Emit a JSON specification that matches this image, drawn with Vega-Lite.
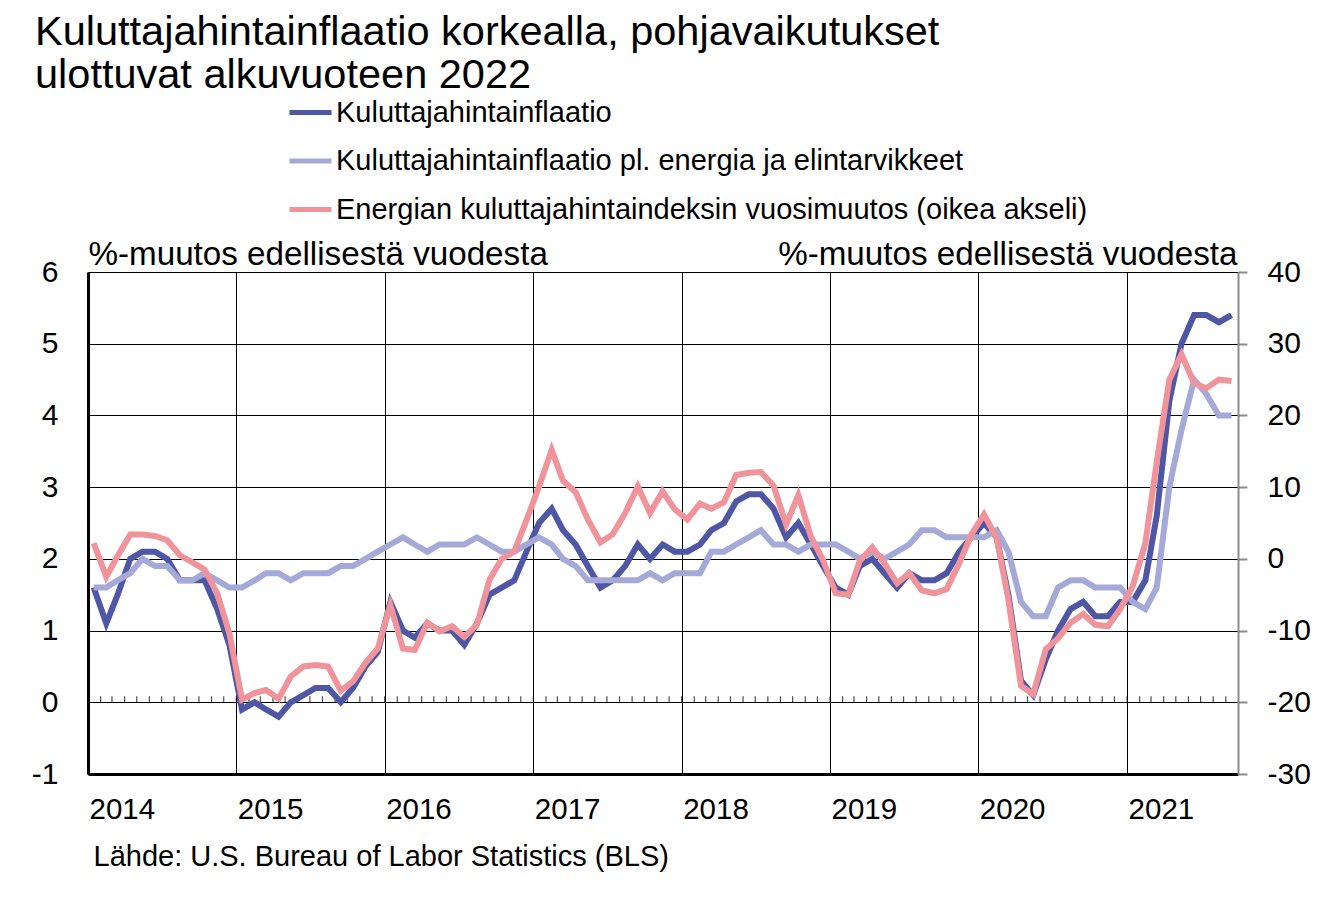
{
  "$schema": "https://vega.github.io/schema/vega-lite/v6.json",
  "autosize": {"type": "none"},
  "width": 1150,
  "height": 502,
  "padding": {"left": 88, "top": 272, "right": 102, "bottom": 133},
  "background": "white",
  "config": {
    "view": {"stroke": null},
    "font": "Liberation Sans",
    "axis": {"labelColor": "black", "titleColor": "black", "labelFont": "Liberation Sans", "titleFont": "Liberation Sans"},
    "legend": {"labelFont": "Liberation Sans", "labelColor": "black"}
  },
  "title": {
    "text": ["Kuluttajahintainflaatio korkealla, pohjavaikutukset", "ulottuvat alkuvuoteen 2022"],
    "anchor": "start",
    "frame": "group",
    "font": "Liberation Sans",
    "fontSize": 41.5,
    "fontWeight": "normal",
    "color": "black",
    "lineHeight": 43,
    "dx": -53,
    "dy": 11
  },
  "data": {
    "values": [
      {"kk": "2014-01-15", "KHI": 1.6, "pohja": 1.6, "energia": 2.2},
      {"kk": "2014-02-15", "KHI": 1.1, "pohja": 1.6, "energia": -2.5},
      {"kk": "2014-03-15", "KHI": 1.5, "pohja": 1.7, "energia": 0.4},
      {"kk": "2014-04-15", "KHI": 2.0, "pohja": 1.8, "energia": 3.4},
      {"kk": "2014-05-15", "KHI": 2.1, "pohja": 2.0, "energia": 3.4},
      {"kk": "2014-06-15", "KHI": 2.1, "pohja": 1.9, "energia": 3.2},
      {"kk": "2014-07-15", "KHI": 2.0, "pohja": 1.9, "energia": 2.6},
      {"kk": "2014-08-15", "KHI": 1.7, "pohja": 1.7, "energia": 0.5},
      {"kk": "2014-09-15", "KHI": 1.7, "pohja": 1.7, "energia": -0.5},
      {"kk": "2014-10-15", "KHI": 1.7, "pohja": 1.8, "energia": -1.5},
      {"kk": "2014-11-15", "KHI": 1.3, "pohja": 1.7, "energia": -4.8},
      {"kk": "2014-12-15", "KHI": 0.8, "pohja": 1.6, "energia": -10.4},
      {"kk": "2015-01-15", "KHI": -0.1, "pohja": 1.6, "energia": -19.6},
      {"kk": "2015-02-15", "KHI": 0.0, "pohja": 1.7, "energia": -18.7},
      {"kk": "2015-03-15", "KHI": -0.1, "pohja": 1.8, "energia": -18.3},
      {"kk": "2015-04-15", "KHI": -0.2, "pohja": 1.8, "energia": -19.5},
      {"kk": "2015-05-15", "KHI": 0.0, "pohja": 1.7, "energia": -16.4},
      {"kk": "2015-06-15", "KHI": 0.1, "pohja": 1.8, "energia": -15.0},
      {"kk": "2015-07-15", "KHI": 0.2, "pohja": 1.8, "energia": -14.8},
      {"kk": "2015-08-15", "KHI": 0.2, "pohja": 1.8, "energia": -15.0},
      {"kk": "2015-09-15", "KHI": 0.0, "pohja": 1.9, "energia": -18.4},
      {"kk": "2015-10-15", "KHI": 0.2, "pohja": 1.9, "energia": -17.1},
      {"kk": "2015-11-15", "KHI": 0.5, "pohja": 2.0, "energia": -14.5},
      {"kk": "2015-12-15", "KHI": 0.7, "pohja": 2.1, "energia": -12.5},
      {"kk": "2016-01-15", "KHI": 1.4, "pohja": 2.2, "energia": -6.4},
      {"kk": "2016-02-15", "KHI": 1.0, "pohja": 2.3, "energia": -12.5},
      {"kk": "2016-03-15", "KHI": 0.9, "pohja": 2.2, "energia": -12.7},
      {"kk": "2016-04-15", "KHI": 1.1, "pohja": 2.1, "energia": -8.9},
      {"kk": "2016-05-15", "KHI": 1.0, "pohja": 2.2, "energia": -10.1},
      {"kk": "2016-06-15", "KHI": 1.0, "pohja": 2.2, "energia": -9.4},
      {"kk": "2016-07-15", "KHI": 0.8, "pohja": 2.2, "energia": -10.9},
      {"kk": "2016-08-15", "KHI": 1.1, "pohja": 2.3, "energia": -9.2},
      {"kk": "2016-09-15", "KHI": 1.5, "pohja": 2.2, "energia": -2.9},
      {"kk": "2016-10-15", "KHI": 1.6, "pohja": 2.1, "energia": 0.0},
      {"kk": "2016-11-15", "KHI": 1.7, "pohja": 2.1, "energia": 1.0},
      {"kk": "2016-12-15", "KHI": 2.1, "pohja": 2.2, "energia": 5.4},
      {"kk": "2017-01-15", "KHI": 2.5, "pohja": 2.3, "energia": 10.1},
      {"kk": "2017-02-15", "KHI": 2.7, "pohja": 2.2, "energia": 15.2},
      {"kk": "2017-03-15", "KHI": 2.4, "pohja": 2.0, "energia": 10.9},
      {"kk": "2017-04-15", "KHI": 2.2, "pohja": 1.9, "energia": 9.3},
      {"kk": "2017-05-15", "KHI": 1.9, "pohja": 1.7, "energia": 5.5},
      {"kk": "2017-06-15", "KHI": 1.6, "pohja": 1.7, "energia": 2.3},
      {"kk": "2017-07-15", "KHI": 1.7, "pohja": 1.7, "energia": 3.4},
      {"kk": "2017-08-15", "KHI": 1.9, "pohja": 1.7, "energia": 6.4},
      {"kk": "2017-09-15", "KHI": 2.2, "pohja": 1.7, "energia": 10.1},
      {"kk": "2017-10-15", "KHI": 2.0, "pohja": 1.8, "energia": 6.4},
      {"kk": "2017-11-15", "KHI": 2.2, "pohja": 1.7, "energia": 9.4},
      {"kk": "2017-12-15", "KHI": 2.1, "pohja": 1.8, "energia": 6.9},
      {"kk": "2018-01-15", "KHI": 2.1, "pohja": 1.8, "energia": 5.5},
      {"kk": "2018-02-15", "KHI": 2.2, "pohja": 1.8, "energia": 7.7},
      {"kk": "2018-03-15", "KHI": 2.4, "pohja": 2.1, "energia": 7.0},
      {"kk": "2018-04-15", "KHI": 2.5, "pohja": 2.1, "energia": 7.9},
      {"kk": "2018-05-15", "KHI": 2.8, "pohja": 2.2, "energia": 11.7},
      {"kk": "2018-06-15", "KHI": 2.9, "pohja": 2.3, "energia": 12.0},
      {"kk": "2018-07-15", "KHI": 2.9, "pohja": 2.4, "energia": 12.1},
      {"kk": "2018-08-15", "KHI": 2.7, "pohja": 2.2, "energia": 10.2},
      {"kk": "2018-09-15", "KHI": 2.3, "pohja": 2.2, "energia": 4.8},
      {"kk": "2018-10-15", "KHI": 2.5, "pohja": 2.1, "energia": 8.9},
      {"kk": "2018-11-15", "KHI": 2.2, "pohja": 2.2, "energia": 3.1},
      {"kk": "2018-12-15", "KHI": 1.9, "pohja": 2.2, "energia": -0.2},
      {"kk": "2019-01-15", "KHI": 1.6, "pohja": 2.2, "energia": -4.8},
      {"kk": "2019-02-15", "KHI": 1.5, "pohja": 2.1, "energia": -5.0},
      {"kk": "2019-03-15", "KHI": 1.9, "pohja": 2.0, "energia": -0.3},
      {"kk": "2019-04-15", "KHI": 2.0, "pohja": 2.1, "energia": 1.6},
      {"kk": "2019-05-15", "KHI": 1.8, "pohja": 2.0, "energia": -0.6},
      {"kk": "2019-06-15", "KHI": 1.6, "pohja": 2.1, "energia": -3.4},
      {"kk": "2019-07-15", "KHI": 1.8, "pohja": 2.2, "energia": -2.0},
      {"kk": "2019-08-15", "KHI": 1.7, "pohja": 2.4, "energia": -4.4},
      {"kk": "2019-09-15", "KHI": 1.7, "pohja": 2.4, "energia": -4.8},
      {"kk": "2019-10-15", "KHI": 1.8, "pohja": 2.3, "energia": -4.2},
      {"kk": "2019-11-15", "KHI": 2.1, "pohja": 2.3, "energia": -0.6},
      {"kk": "2019-12-15", "KHI": 2.3, "pohja": 2.3, "energia": 3.4},
      {"kk": "2020-01-15", "KHI": 2.5, "pohja": 2.3, "energia": 6.2},
      {"kk": "2020-02-15", "KHI": 2.3, "pohja": 2.4, "energia": 2.9},
      {"kk": "2020-03-15", "KHI": 1.5, "pohja": 2.1, "energia": -5.7},
      {"kk": "2020-04-15", "KHI": 0.3, "pohja": 1.4, "energia": -17.7},
      {"kk": "2020-05-15", "KHI": 0.1, "pohja": 1.2, "energia": -18.9},
      {"kk": "2020-06-15", "KHI": 0.6, "pohja": 1.2, "energia": -12.6},
      {"kk": "2020-07-15", "KHI": 1.0, "pohja": 1.6, "energia": -11.1},
      {"kk": "2020-08-15", "KHI": 1.3, "pohja": 1.7, "energia": -8.9},
      {"kk": "2020-09-15", "KHI": 1.4, "pohja": 1.7, "energia": -7.7},
      {"kk": "2020-10-15", "KHI": 1.2, "pohja": 1.6, "energia": -9.2},
      {"kk": "2020-11-15", "KHI": 1.2, "pohja": 1.6, "energia": -9.4},
      {"kk": "2020-12-15", "KHI": 1.4, "pohja": 1.6, "energia": -7.0},
      {"kk": "2021-01-15", "KHI": 1.4, "pohja": 1.4, "energia": -3.8},
      {"kk": "2021-02-15", "KHI": 1.7, "pohja": 1.3, "energia": 2.2},
      {"kk": "2021-03-15", "KHI": 2.6, "pohja": 1.6, "energia": 13.5},
      {"kk": "2021-04-15", "KHI": 4.2, "pohja": 3.0, "energia": 25.0},
      {"kk": "2021-05-15", "KHI": 5.0, "pohja": 3.8, "energia": 28.5},
      {"kk": "2021-06-15", "KHI": 5.4, "pohja": 4.5, "energia": 24.5},
      {"kk": "2021-07-15", "KHI": 5.4, "pohja": 4.3, "energia": 23.8},
      {"kk": "2021-08-15", "KHI": 5.3, "pohja": 4.0, "energia": 25.0},
      {"kk": "2021-09-15", "KHI": 5.4, "pohja": 4.0, "energia": 24.8}
    ]
  },
  "layer": [
    {
      "layer": [
        {
          "mark": {"type": "tick", "orient": "vertical", "size": 6, "thickness": 1.2, "color": "black", "yOffset": -3},
          "encoding": {
            "x": {"field": "kk", "type": "temporal", "timeUnit": "utcyearmonth", "bandPosition": 0, "scale": {"type": "utc"}},
            "y": {"datum": 0, "type": "quantitative"}
          }
        },
        {
          "transform": [{"fold": ["KHI", "pohja"], "as": ["sarja", "arvo"]}],
          "mark": {"type": "line", "strokeWidth": 6},
          "encoding": {
            "x": {
              "field": "kk", "type": "temporal",
              "scale": {"type": "utc", "domain": [{"year": 2014, "month": 1, "date": 1, "utc": true}, {"year": 2021, "month": 10, "date": 1, "utc": true}]},
              "axis": {
                "title": "Lähde: U.S. Bureau of Labor Statistics (BLS)",
                "titleX": 5, "titleY": 91, "titleAlign": "left", "titleAnchor": "start", "titleBaseline": "alphabetic",
                "titleFontSize": 29, "titleFontWeight": "normal",
                "format": "%Y", "tickCount": {"interval": "year", "step": 1},
                "labelAlign": "left", "labelBaseline": "alphabetic", "labelPadding": 44, "labelOffset": 1,
                "labelFontSize": 29.5, "labelOverlap": false, "labelFlush": false, "labelBound": false,
                "ticks": false, "tickSize": 0,
                "grid": true, "gridColor": "black", "gridWidth": 1, "gridOpacity": 1,
                "domainColor": "black", "domainWidth": 3
              }
            },
            "y": {
              "field": "arvo", "type": "quantitative",
              "scale": {"domain": [-1, 6], "nice": false, "zero": false},
              "axis": {
                "title": "%-muutos edellisestä vuodesta",
                "titleAngle": 0, "titleAlign": "left", "titleBaseline": "alphabetic", "titleX": 0, "titleY": -8,
                "titleFontSize": 33.2, "titleFontWeight": "normal",
                "values": [-1, 0, 1, 2, 3, 4, 5, 6],
                "labelExpr": "'' + datum.value",
                "ticks": false, "tickSize": 0, "labelPadding": 30, "labelFontSize": 30,
                "grid": true, "gridColor": "black", "gridWidth": 1, "gridOpacity": 1,
                "domainColor": "black", "domainWidth": 3
              }
            },
            "color": {
              "field": "sarja", "type": "nominal",
              "scale": {"domain": ["KHI", "pohja", "energia"], "range": ["#4E56A6", "#A5A9D7", "#F0939A"]},
              "legend": {
                "orient": "none", "legendX": 199, "legendY": -183, "title": null, "padding": 0,
                "direction": "vertical",
                "symbolType": "stroke", "symbolSize": 1764, "symbolStrokeWidth": 5,
                "labelFontSize": 29, "labelLimit": 0, "labelOffset": 2, "rowPadding": 9.5,
                "labelExpr": "datum.value == 'KHI' ? 'Kuluttajahintainflaatio' : datum.value == 'pohja' ? 'Kuluttajahintainflaatio pl. energia ja elintarvikkeet' : 'Energian kuluttajahintaindeksin vuosimuutos (oikea akseli)'"
              }
            }
          }
        }
      ]
    },
    {
      "mark": {"type": "line", "strokeWidth": 6},
      "encoding": {
        "x": {"field": "kk", "type": "temporal", "scale": {"type": "utc"}},
        "y": {
          "field": "energia", "type": "quantitative",
          "scale": {"domain": [-30, 40], "nice": false, "zero": false},
          "axis": {
            "orient": "right",
            "title": "%-muutos edellisestä vuodesta",
            "titleAngle": 0, "titleAlign": "right", "titleBaseline": "alphabetic", "titleX": -1, "titleY": -8,
            "titleFontSize": 33.2, "titleFontWeight": "normal",
            "values": [-30, -20, -10, 0, 10, 20, 30, 40],
            "labelExpr": "'' + datum.value",
            "tickColor": "#8C8C8C", "tickWidth": 2, "tickSize": 9,
            "domainColor": "#8C8C8C", "domainWidth": 2,
            "labelPadding": 20, "labelFontSize": 30, "grid": false
          }
        },
        "color": {"datum": "energia", "type": "nominal"}
      }
    }
  ],
  "resolve": {"scale": {"y": "independent"}}
}
